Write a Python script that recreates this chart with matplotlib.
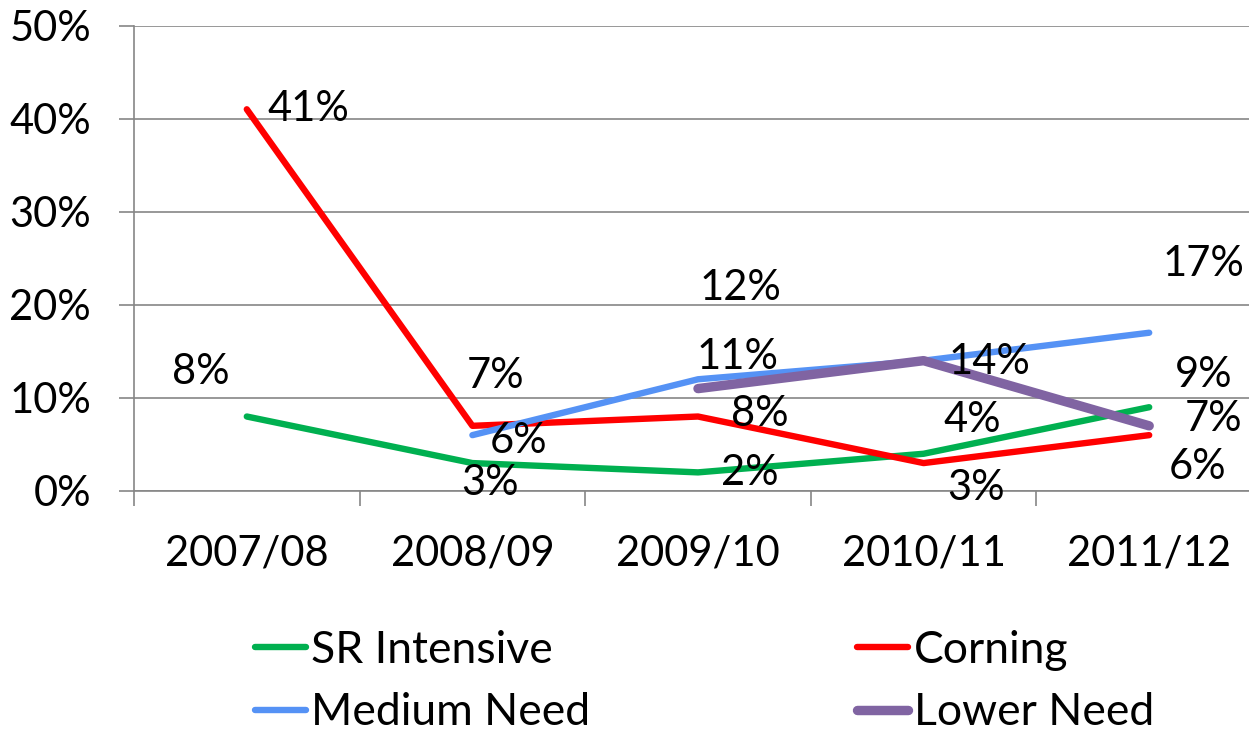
import numpy as np
import matplotlib
matplotlib.use("Agg")
import matplotlib.pyplot as plt

plt.rcParams['font.family'] = ['Lato', 'DejaVu Sans']

categories = ["2007/08", "2008/09", "2009/10", "2010/11", "2011/12"]
sr_intensive = [8, 3, 2, 4, 9]
corning = [41, 7, 8, 3, 6]
medium_need = [np.nan, 6, 12, 14, 17]
lower_need = [np.nan, np.nan, 11, 14, 7]

series_names = ["SR Intensive", "Corning", "Medium Need", "Lower Need"]
series_values = [sr_intensive, corning, medium_need, lower_need]
colors = ["#00B050", "#FF0000", "#5592F5", "#8064A2"]
widths = [4.6, 4.6, 4.6, 6.8]

# label offsets in pixels (dx, dy-up) for each series/point
label_offsets = {
    0: [(-46, 45), (18, -20), (52, -1), (49, 34), (54, 32)],
    1: [(62, 0), (23, 50), (62, 3), (52, -25), (48, -32)],
    2: [None, (46, -6), (42, 91), None, (54, 69)],
    3: [None, None, (40, 32), (66, -1), (64, 7)],
}

W, H = 1249, 735
fig = plt.figure(figsize=(W / 100, H / 100), dpi=100)
ax = fig.add_axes([134 / W, (735 - 491) / H, 1128 / W, 465.5 / H])

x = np.arange(len(categories))
handles = []
for i, (name, vals) in enumerate(zip(series_names, series_values)):
    ln, = ax.plot(x, vals, color=colors[i], lw=widths[i], solid_capstyle='round',
                  solid_joinstyle='round', label=name, zorder=3 + (i == 3))
    handles.append(ln)

fs = 30
for i, vals in enumerate(series_values):
    for j, v in enumerate(vals):
        off = label_offsets[i][j]
        if off is None or np.isnan(v):
            continue
        ax.annotate(f"{int(v)}%", (x[j], v), xytext=(off[0] * 0.72, off[1] * 0.72),
                    textcoords='offset points', ha='center', va='center',
                    fontsize=fs, color='black', zorder=6, annotation_clip=False)

ax.set_xlim(-0.5, 4.5)
ax.set_ylim(0, 50)
ax.set_yticks(np.arange(0, 51, 10))
ax.set_yticklabels([f"{t}%" for t in range(0, 51, 10)])
ax.yaxis.grid(True, color='#868686', lw=1.2)
ax.set_axisbelow(True)

ax.set_xticks(x)
ax.set_xticklabels(categories)
ax.set_xticks(np.arange(-0.5, 5, 1), minor=True)
ax.tick_params(axis='x', which='major', length=0, pad=31, labelsize=fs)
ax.tick_params(axis='x', which='minor', length=11, color='#868686', width=1.2, direction='out')
ax.tick_params(axis='y', length=11, color='#868686', width=1.2, pad=20, labelsize=fs)

for s in ['top', 'right']:
    ax.spines[s].set_visible(False)
for s in ['left', 'bottom']:
    ax.spines[s].set_color('#868686')
    ax.spines[s].set_linewidth(1.2)

order = [0, 2, 1, 3]
leg = fig.legend([handles[k] for k in order], [series_names[k] for k in order],
                 ncol=2, loc='upper left', bbox_to_anchor=(255 / W, 1 - 630 / H),
                 frameon=False, fontsize=32, handlelength=1.15, handletextpad=0.12,
                 columnspacing=6.0, labelspacing=0.48, borderpad=0, borderaxespad=0)

fig.savefig("out.png", dpi=100)
